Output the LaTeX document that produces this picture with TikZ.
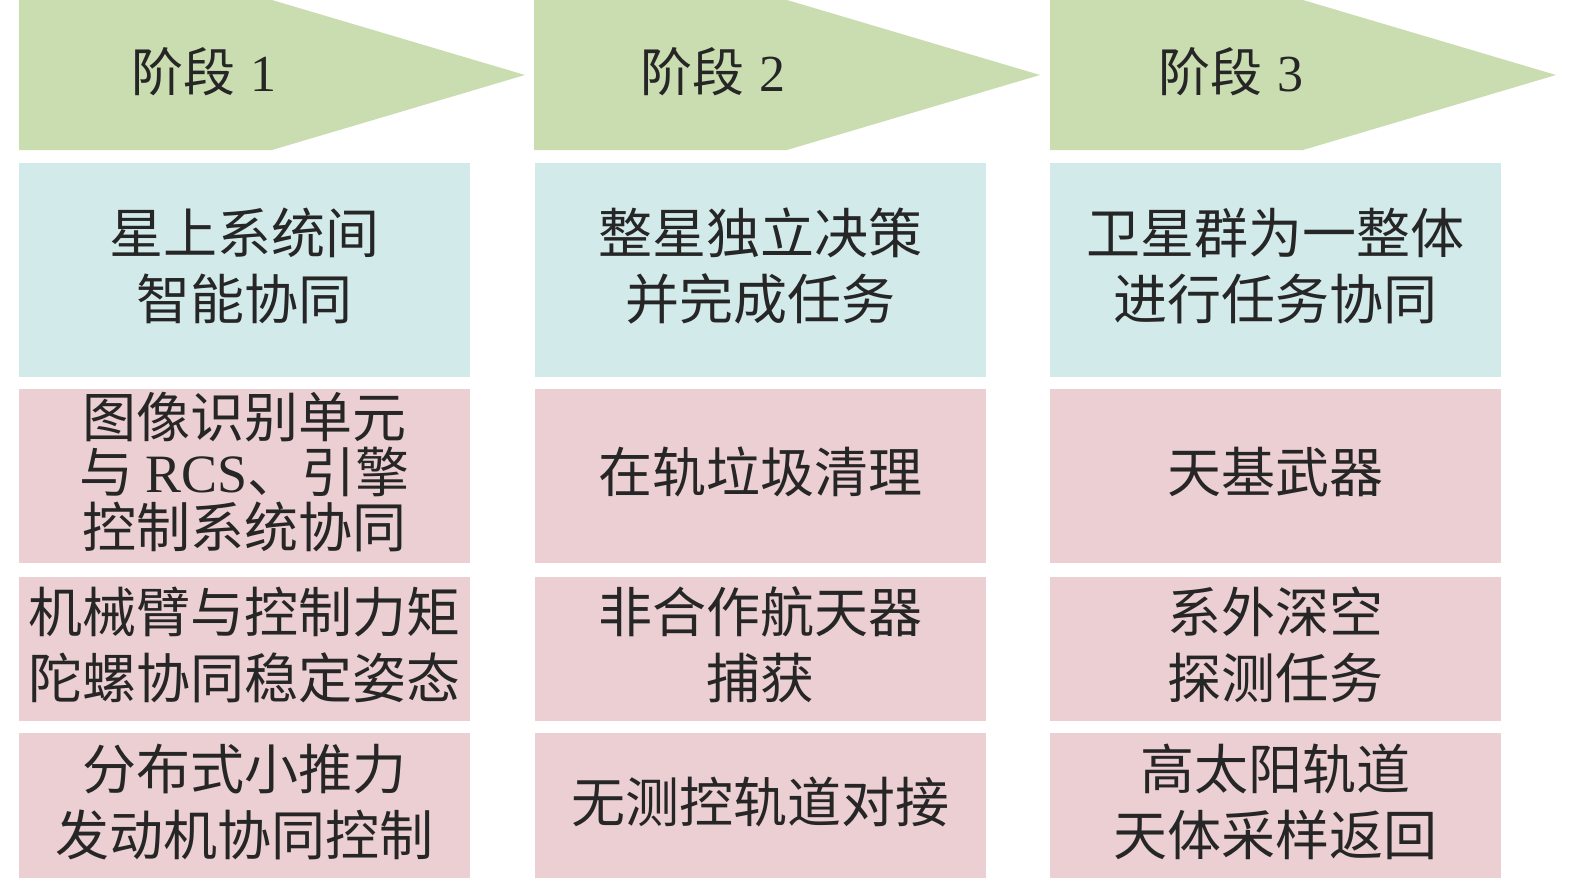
\documentclass[tikz,border=0pt]{standalone}
\usepackage{fontspec}
\setmainfont{Liberation Serif}
\newfontfamily\cjk{Noto Sans CJK SC}
\definecolor{stagegreen}{HTML}{CADDB0}
\definecolor{goalblue}{HTML}{D3EAEB}
\definecolor{taskpink}{HTML}{EBCFD2}
\begin{document}
\begin{tikzpicture}[x=1pt,y=-1pt,
  stagetext/.style={inner sep=0pt, font=\cjk\fontsize{52}{60}\selectfont, text=black!85},
  cell/.style={anchor=north west, inner sep=0pt, minimum width=451pt},
  goal/.style={cell, fill=goalblue, minimum height=214pt},
  task/.style={cell, fill=taskpink},
  celltext/.style={inner sep=0pt, align=center, font=\cjk\fontsize{54}{66}\selectfont, text=black!85},
  tight/.style={font=\cjk\fontsize{54}{55}\selectfont}
]
\useasboundingbox (0,0) rectangle (1575,878);
% stage arrows
\foreach \x/\n in {19/1, 534/2, 1050/3}{
  \fill[stagegreen] (\x,0) -- (\x+253,0) -- (\x+506,75) -- (\x+253,150) -- (\x,150) -- cycle;
}
\node[stagetext] (s1) at (204,72) {阶段\hspace{0.3em}{\rmfamily 1}};
\node[stagetext] (s2) at (713,72) {阶段\hspace{0.3em}{\rmfamily 2}};
\node[stagetext] (s3) at (1231,72) {阶段\hspace{0.3em}{\rmfamily 3}};
% boxes
\node[goal] (g1) at (19,163) {};
\node[goal] (g2) at (535,163) {};
\node[goal] (g3) at (1050,163) {};
\node[task, minimum height=174pt] (a1) at (19,389) {};
\node[task, minimum height=174pt] (a2) at (535,389) {};
\node[task, minimum height=174pt] (a3) at (1050,389) {};
\node[task, minimum height=144pt] (b1) at (19,577) {};
\node[task, minimum height=144pt] (b2) at (535,577) {};
\node[task, minimum height=144pt] (b3) at (1050,577) {};
\node[task, minimum height=145pt] (c1) at (19,733) {};
\node[task, minimum height=145pt] (c2) at (535,733) {};
\node[task, minimum height=145pt] (c3) at (1050,733) {};
% texts
\node[celltext] (tg1) at ([yshift=4pt]g1.center) {星上系统间\\智能协同};
\node[celltext] (tg2) at ([yshift=4pt]g2.center) {整星独立决策\\并完成任务};
\node[celltext] (tg3) at ([yshift=4pt]g3.center) {卫星群为一整体\\进行任务协同};
\node[celltext, tight] (ta1) at ([yshift=4pt]a1.center) {图像识别单元\\与 {\rmfamily RCS}、引擎\\控制系统协同};
\node[celltext] (ta2) at ([yshift=4pt]a2.center) {在轨垃圾清理};
\node[celltext] (ta3) at ([yshift=4pt]a3.center) {天基武器};
\node[celltext] (tb1) at ([yshift=4pt]b1.center) {机械臂与控制力矩\\陀螺协同稳定姿态};
\node[celltext] (tb2) at ([yshift=4pt]b2.center) {非合作航天器\\捕获};
\node[celltext] (tb3) at ([yshift=4pt]b3.center) {系外深空\\探测任务};
\node[celltext] (tc1) at ([yshift=4pt]c1.center) {分布式小推力\\发动机协同控制};
\node[celltext] (tc2) at ([yshift=4pt]c2.center) {无测控轨道对接};
\node[celltext] (tc3) at ([yshift=4pt]c3.center) {高太阳轨道\\天体采样返回};
\end{tikzpicture}
\end{document}
